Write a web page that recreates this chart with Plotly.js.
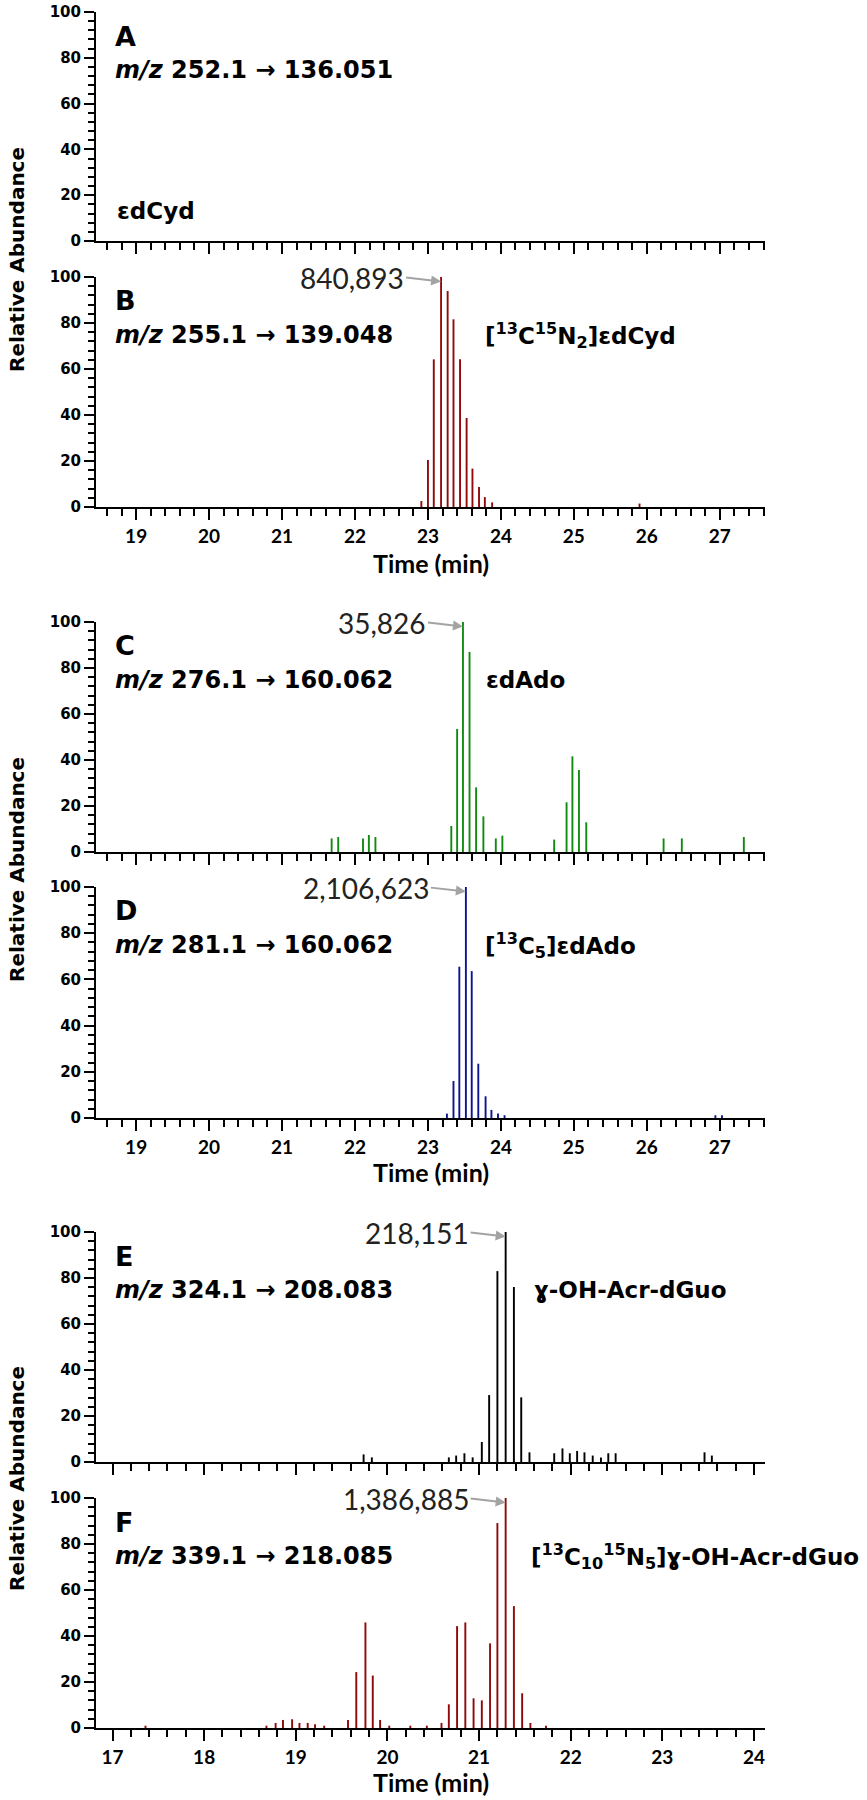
<!DOCTYPE html>
<html>
<head>
<meta charset="utf-8">
<script src="https://cdn.plot.ly/plotly-3.0.1.min.js"></script>
<style>
html,body{margin:0;padding:0;background:#fff;}
#chart{width:867px;height:1800px;}
</style>
</head>
<body>
<div id="chart"></div>
<script>
// ---------- data (retention time in min, relative abundance in %) ----------
const timeA = [];
const abundA = [];

const timeB = [22.91, 23.00, 23.08, 23.18, 23.27, 23.35, 23.44, 23.53, 23.61, 23.70, 23.78, 23.88, 25.90];
const abundB = [2.6, 20.4, 64.2, 100, 93.9, 81.6, 64.2, 38.7, 16.7, 8.7, 4.3, 2.0, 1.5];

const timeC = [21.68, 21.77, 22.11, 22.19, 22.28, 23.32, 23.40, 23.48, 23.57, 23.66, 23.76, 23.93, 24.02, 24.73, 24.90, 24.98, 25.07, 25.17, 26.23, 26.48, 27.33];
const abundC = [5.9, 6.5, 5.9, 7.4, 6.5, 11.3, 53.5, 100, 87, 28.1, 15.5, 5.9, 7.1, 5.4, 21.6, 41.6, 35.7, 12.9, 5.9, 5.9, 6.5];

const timeD = [23.26, 23.35, 23.43, 23.52, 23.60, 23.69, 23.79, 23.87, 23.96, 24.05, 26.94, 27.03];
const abundD = [1.9, 16, 65.5, 100, 63.6, 23.5, 9.4, 3.5, 1.9, 1.2, 1.2, 1.2];

const timeE = [19.74, 19.83, 20.67, 20.75, 20.84, 20.93, 21.03, 21.11, 21.20, 21.29, 21.38, 21.46, 21.55, 21.82, 21.91, 21.99, 22.07, 22.15, 22.24, 22.33, 22.41, 22.49, 23.46, 23.54];
const abundE = [3.3, 2.0, 2.0, 2.8, 3.8, 2.0, 8.7, 29.1, 83, 100, 76.1, 28.1, 4.2, 3.8, 5.9, 3.8, 4.8, 4.2, 2.8, 2.0, 3.8, 3.8, 4.2, 2.8];

const timeF = [17.36, 18.68, 18.78, 18.86, 18.96, 19.04, 19.13, 19.21, 19.31, 19.57, 19.66, 19.76, 19.84, 19.92, 20.02, 20.25, 20.43, 20.59, 20.67, 20.76, 20.85, 20.94, 21.03, 21.12, 21.20, 21.29, 21.38, 21.47, 21.56, 21.73];
const abundF = [1.0, 1.0, 2.2, 3.5, 3.8, 2.2, 2.2, 1.6, 1.0, 3.5, 24.3, 45.9, 22.8, 3.5, 1.0, 1.0, 1.0, 2.2, 10.3, 44.3, 45.9, 12.9, 12, 36.8, 89.1, 100, 53, 15.1, 2.2, 1.0];

const panelLetters = ["A", "B", "C", "D", "E", "F"];
const transitions = [
  "<i>m/z</i> 252.1 → 136.051",
  "<i>m/z</i> 255.1 → 139.048",
  "<i>m/z</i> 276.1 → 160.062",
  "<i>m/z</i> 281.1 → 160.062",
  "<i>m/z</i> 324.1 → 208.083",
  "<i>m/z</i> 339.1 → 218.085"
];
const compounds = [
  "εdCyd",
  "[<sup>13</sup>C<sup>15</sup>N<sub>2</sub>]εdCyd",
  "εdAdo",
  "[<sup>13</sup>C<sub>5</sub>]εdAdo",
  "ɣ-OH-Acr-dGuo",
  "[<sup>13</sup>C<sub>10</sub><sup>15</sup>N<sub>5</sub>]ɣ-OH-Acr-dGuo"
];
const peakLabels = [null, "840,893", "35,826", "2,106,623", "218,151", "1,386,885"];
const peakTimes = [null, 23.18, 23.48, 23.52, 21.29, 21.29];
const yTitle = "Relative Abundance";
const xTitle = "Time (min)";

// ---------- styling / layout ----------
const W = 867, H = 1800;
const colors = ["#000000", "#8f0a0a", "#118a11", "#0c1490", "#000000", "#8f0a0a"];
const series = [[timeA, abundA], [timeB, abundB], [timeC, abundC], [timeD, abundD], [timeE, abundE], [timeF, abundF]];
const barWidths = [0.026, 0.026, 0.026, 0.026, 0.021, 0.021];
const panelTop = [12, 277, 622, 887, 1232, 1498];   // px of y=100
const panelBot = [241, 507, 852, 1118, 1462, 1728]; // px of y=0
const xLeft = 96, xRight = 765;
const xRanges = [[18.45, 27.62], [18.45, 27.62], [18.45, 27.62], [18.45, 27.62], [16.82, 24.12], [16.82, 24.12]];
const showXLabels = [false, true, false, true, false, true];
const compoundX = [115, 483, 484, 483, 532, 529];

const FONT = "Lato, 'Open Sans', sans-serif";
const WIDE = "'DejaVu Sans', Verdana, sans-serif";
const traces = [];
const layout = {
  width: W, height: H,
  margin: {l: 0, r: 0, t: 0, b: 0},
  paper_bgcolor: "#fff", plot_bgcolor: "#fff",
  showlegend: false,
  annotations: []
};
const px2x = p => p / W;
const px2y = p => 1 - p / H;

for (let i = 0; i < 6; i++) {
  const n = i === 0 ? "" : String(i + 1);
  traces.push({
    type: "bar",
    x: series[i][0], y: series[i][1],
    width: barWidths[i],
    marker: {color: colors[i], line: {width: 0}},
    xaxis: "x" + n, yaxis: "y" + n,
    hoverinfo: "x+y"
  });
  layout["xaxis" + n] = {
    domain: [px2x(xLeft), px2x(xRight)],
    anchor: "y" + n,
    range: xRanges[i],
    showgrid: false, zeroline: false,
    showline: true, linecolor: "#000", linewidth: 2,
    ticks: "outside", ticklen: 11, tickwidth: 2, tickcolor: "#000",
    tick0: 0, dtick: 1,
    minor: {ticks: "outside", dtick: 0.2, tick0: 0, ticklen: 7, tickwidth: 2, tickcolor: "#000", showgrid: false},
    showticklabels: showXLabels[i],
    tickfont: {family: FONT, size: 19, color: "#000", weight: 700}
  };
  layout["yaxis" + n] = {
    domain: [px2y(panelBot[i]), px2y(panelTop[i])],
    anchor: "x" + n,
    range: [0, 100],
    showgrid: false, zeroline: false,
    showline: true, linecolor: "#000", linewidth: 2,
    ticks: "outside", ticklen: 10, tickwidth: 2, tickcolor: "#000",
    tick0: 0, dtick: 20,
    minor: {ticks: "outside", dtick: 4, tick0: 0, ticklen: 6, tickwidth: 2, tickcolor: "#000", showgrid: false},
    tickfont: {family: WIDE, size: 15, color: "#000", weight: 700}
  };

  const top = panelTop[i];
  // panel letter
  layout.annotations.push({
    xref: "paper", yref: "paper", x: px2x(113), y: px2y(top + 24),
    xanchor: "left", yanchor: "middle", showarrow: false,
    text: panelLetters[i],
    font: {family: WIDE, size: 27, color: "#000", weight: 700}
  });
  // transition
  layout.annotations.push({
    xref: "paper", yref: "paper", x: px2x(113), y: px2y(top + 58),
    xanchor: "left", yanchor: "middle", showarrow: false,
    text: transitions[i],
    font: {family: WIDE, size: 24, color: "#000", weight: 700}
  });
  // compound name
  layout.annotations.push({
    xref: "paper", yref: "paper", x: px2x(compoundX[i]),
    y: i === 0 ? px2y(top + 199) : px2y(top + 58),
    xanchor: "left", yanchor: "middle", showarrow: false,
    text: compounds[i],
    font: {family: WIDE, size: 23, color: "#000", weight: 700}
  });
  // peak intensity with arrow
  if (peakLabels[i]) {
    layout.annotations.push({
      xref: "x" + n, yref: "y" + n, x: peakTimes[i], y: 98,
      ax: -35, ay: -4, axref: "pixel", ayref: "pixel",
      xanchor: "right", yanchor: "middle",
      showarrow: true, arrowhead: 2, arrowsize: 1, arrowwidth: 2, arrowcolor: "#a3a3a3", standoff: 0,
      text: peakLabels[i],
      font: {family: FONT, size: 28, color: "#222", weight: 400}
    });
  }
}

// shared y titles
[260, 870, 1479].forEach(c => {
  layout.annotations.push({
    xref: "paper", yref: "paper", x: px2x(17), y: px2y(c),
    xanchor: "center", yanchor: "middle", showarrow: false, textangle: -90,
    text: yTitle,
    font: {family: WIDE, size: 20, color: "#000", weight: 700}
  });
});
// x titles
[563, 1172, 1782].forEach(c => {
  layout.annotations.push({
    xref: "paper", yref: "paper", x: px2x(430.5), y: px2y(c),
    xanchor: "center", yanchor: "middle", showarrow: false,
    text: xTitle,
    font: {family: FONT, size: 25, color: "#000", weight: 700}
  });
});

Plotly.newPlot("chart", traces, layout, {displayModeBar: false, staticPlot: true});
</script>
</body>
</html>
